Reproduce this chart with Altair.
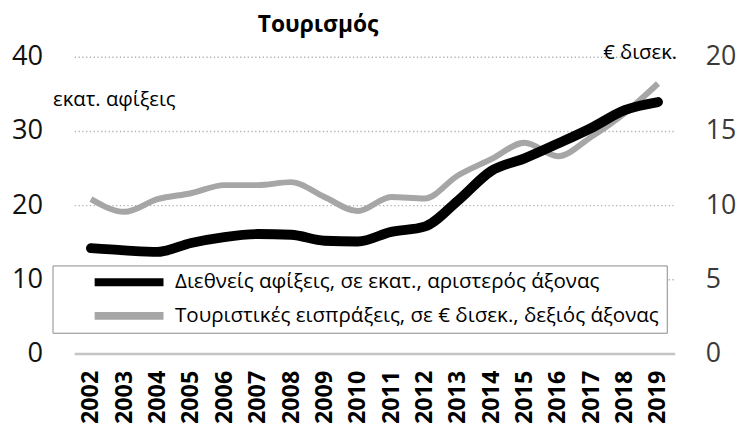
import altair as alt
import pandas as pd

years = [str(y) for y in range(2002, 2020)]
arrivals = [14.2, 13.9, 13.7, 14.9, 15.7, 16.1, 16.0, 15.2, 15.1, 16.4, 17.1,
            20.6, 24.6, 26.3, 28.3, 30.4, 32.8, 33.9]
receipts = [10.4, 9.55, 10.4, 10.8, 11.35, 11.35, 11.55, 10.55, 9.6, 10.55,
            10.45, 12.0, 13.1, 14.2, 13.3, 14.6, 16.2, 18.2]
series_labels = ["Διεθνείς αφίξεις, σε εκατ., αριστερός άξονας",
                 "Τουριστικές εισπράξεις, σε € δισεκ., δεξιός άξονας"]
left_ticks = [0, 10, 20, 30, 40]
right_ticks = [0, 5, 10, 15, 20]

df_arr = pd.DataFrame({"year": years, "value": arrivals, "series": series_labels[0]})
df_rec = pd.DataFrame({"year": years, "value": receipts, "series": series_labels[1]})

FONT = "Open Sans"
color_scale = alt.Scale(domain=series_labels, range=["#000000", "#a6a6a6"])
legend = alt.Legend(
    title=None, orient="none", legendX=-22, legendY=211, direction="vertical",
    symbolType="M-5.8,0H5.8", symbolSize=144, symbolStrokeWidth=8,
    symbolFillColor="transparent",
    labelFont=FONT, labelFontSize=20.8, labelColor="#000000", labelLimit=800,
    labelExpr="datum.label + '" + "\u00a0" * 14 + "'",
    padding=7, rowPadding=13, clipHeight=20, symbolOffset=60, labelOffset=36,
    strokeColor="#8a8a8a", fillColor="#ffffff",
)

x = alt.X("year:O", title=None,
          axis=alt.Axis(labelAngle=-90, labelFont=FONT, labelFontSize=23.5,
                        labelFontWeight="bold", labelColor="#000000",
                        labelPadding=17, ticks=False, domain=False, grid=False))

gray = alt.Chart(df_rec).mark_line(strokeWidth=6, interpolate="monotone").encode(
    x=x,
    y=alt.Y("value:Q", scale=alt.Scale(domain=[0, 20], nice=False),
            axis=alt.Axis(orient="right", values=right_ticks, grid=False,
                          domain=False, ticks=False, labelFont=FONT,
                          labelFontSize=27, labelColor="#3a3a3a",
                          labelPadding=31, title="€ δισεκ.", titleAngle=0,
                          titleX=2, titleY=2, titleAlign="right",
                          titleBaseline="alphabetic", titleFont=FONT,
                          titleFontSize=20.5, titleFontWeight="normal",
                          titleColor="#000000")),
    color=alt.Color("series:N", scale=color_scale, legend=legend),
)

black = alt.Chart(df_arr).mark_line(strokeWidth=10, interpolate="monotone",
                                    strokeCap="round").encode(
    x=x,
    y=alt.Y("value:Q", scale=alt.Scale(domain=[0, 40], nice=False),
            axis=alt.Axis(orient="left", values=left_ticks, grid=True,
                          gridColor={"condition": {"test": "datum.value === 0", "value": "#c4c4c4"}, "value": "#b0b0b0"},
                          gridDash={"condition": {"test": "datum.value === 0", "value": []}, "value": [1.3, 2.5]},
                          gridWidth={"condition": {"test": "datum.value === 0", "value": 2.5}, "value": 1.4},
                          domain=False, ticks=False, labelFont=FONT,
                          labelFontSize=27.5, labelColor="#111111",
                          labelPadding=32, title="εκατ. αφίξεις", titleAngle=0,
                          titleX=-22, titleY=49, titleAlign="left",
                          titleBaseline="alphabetic", titleFont=FONT,
                          titleFontSize=20.5, titleFontWeight="normal",
                          titleColor="#000000")),
    color=alt.Color("series:N", scale=color_scale, legend=legend),
)

chart = alt.layer(gray, black).resolve_scale(y="independent").properties(
    width=607, height=300,
    padding={"left": 67, "top": 47, "right": 64, "bottom": 71},
    autosize=alt.AutoSizeParams(type="none"),
    title=alt.TitleParams("Τουρισμός", font=FONT, fontSize=23, fontWeight="bold",
                          color="#000000", anchor="middle", dx=-57, offset=6),
).configure_view(stroke=None)

chart.save("out.html", embed_options={"renderer": "svg", "actions": False})
